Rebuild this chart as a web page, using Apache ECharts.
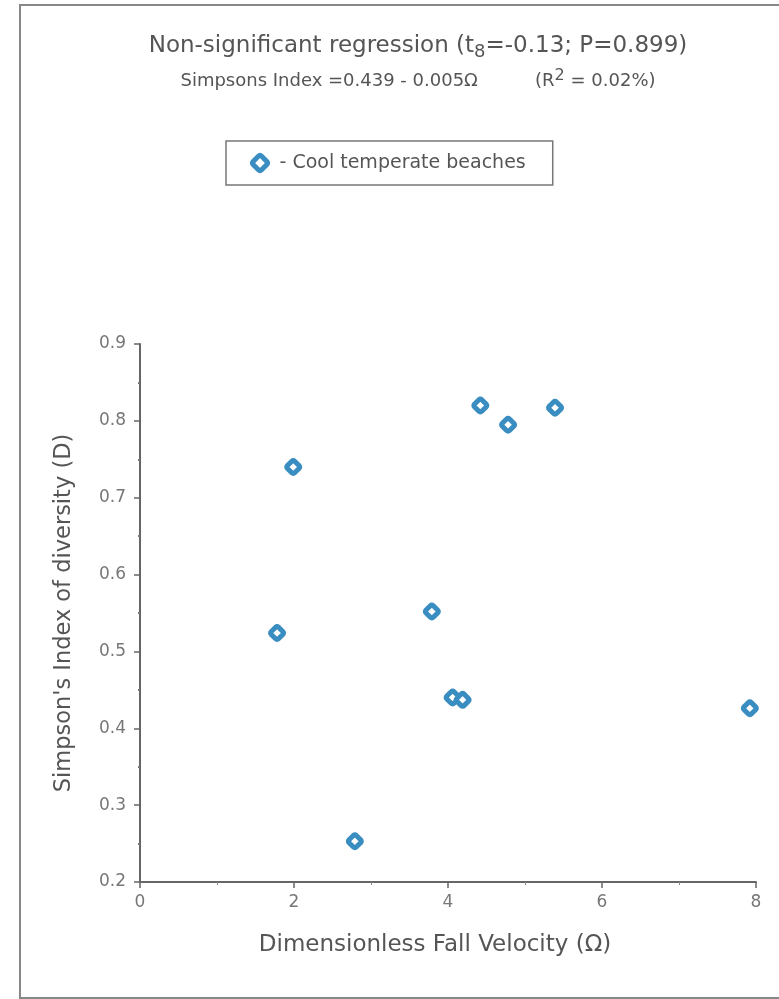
<!DOCTYPE html>
<html>
<head>
<meta charset="utf-8">
<script src="https://cdn.jsdelivr.net/npm/echarts@6/dist/echarts.min.js"></script>
<style>html,body{margin:0;padding:0;background:#fff}#c{width:779px;height:999px}</style>
</head>
<body>
<div id="c"></div>
<script>
// Data
const seriesName = 'Cool temperate beaches';
const fallVelocity = [1.78, 1.99, 2.79, 3.79, 4.06, 4.19, 4.42, 4.78, 5.39, 7.92];
const simpsonD =     [0.524, 0.740, 0.253, 0.552, 0.440, 0.437, 0.820, 0.795, 0.817, 0.426];
const xTicks = [0, 2, 4, 6, 8];
const yTicks = [0.2, 0.3, 0.4, 0.5, 0.6, 0.7, 0.8, 0.9];

const points = fallVelocity.map((x, i) => [x, simpsonD[i]]);
const txt = '#555';
const font = 'DejaVu Sans, Verdana, sans-serif';
const roundDiamond = 'path://M2,-8 L8,-2 Q10,0 8,2 L2,8 Q0,10 -2,8 L-8,2 Q-10,0 -8,-2 L-2,-8 Q0,-10 2,-8 Z';
const markerStyle = {color: '#fff', borderColor: '#3a8dc0', borderWidth: 5, opacity: 1};

const chart = echarts.init(document.getElementById('c'), null, {renderer: 'canvas'});
chart.setOption({
  animation: false,
  backgroundColor: '#fff',
  textStyle: {fontFamily: font},
  title: [{
    text: '{a|Non-significant regression (t}{s|8}{a|=-0.13; P=0.899)}',
    left: 413, top: 27, textAlign: 'center',
    textStyle: {fontWeight: 'normal', rich: {
      a: {fontSize: 23, color: txt, fontFamily: font, fontWeight: 'normal'},
      s: {fontSize: 18, color: txt, fontFamily: font, fontWeight: 'normal', padding: [11, 0, 0, 0]}
    }}
  }, {
    text: '{a|Simpsons Index =0.439 - 0.005Ω          (R}{p|2}{a| = 0.02%)}',
    left: 413, top: 63, textAlign: 'center',
    textStyle: {fontWeight: 'normal', rich: {
      a: {fontSize: 18, color: txt, fontFamily: font, fontWeight: 'normal'},
      p: {fontSize: 16, color: txt, fontFamily: font, fontWeight: 'normal', padding: [0, 0, 10, 0]}
    }}
  }],
  legend: {
    left: 226, top: 141,
    padding: [12, 27, 12, 24],
    borderColor: '#777', borderWidth: 1.5,
    icon: roundDiamond,
    itemWidth: 15, itemHeight: 15, itemGap: 5,
    itemStyle: markerStyle,
    formatter: n => '- ' + n,
    textStyle: {fontSize: 19, color: txt, fontFamily: font, padding: [0, 0, 0, 7]},
    data: [seriesName]
  },
  grid: {left: 140, right: 23, top: 344, bottom: 117, containLabel: false},
  xAxis: {
    type: 'value', min: 0, max: 8, interval: 2,
    name: 'Dimensionless Fall Velocity (Ω)', nameLocation: 'middle', nameGap: 52,
    nameTextStyle: {fontSize: 23, color: txt, fontFamily: font, padding: [0, 26, 0, 0]},
    axisLine: {lineStyle: {color: '#666', width: 2}},
    axisTick: {show: true, length: 6, lineStyle: {color: '#666', width: 1.5}},
    minorTick: {show: true, splitNumber: 2, length: 3, lineStyle: {color: '#888'}},
    axisLabel: {fontSize: 17, color: '#777', margin: 12, fontFamily: font, formatter: v => xTicks.includes(v) ? String(v) : ''},
    splitLine: {show: false}
  },
  yAxis: {
    type: 'value', min: 0.2, max: 0.9, interval: 0.1,
    name: "Simpson's Index of diversity (D)", nameLocation: 'middle', nameGap: 64,
    nameTextStyle: {fontSize: 22.5, color: txt, fontFamily: font},
    axisLine: {lineStyle: {color: '#666', width: 2}},
    axisTick: {show: true, length: 6, lineStyle: {color: '#666', width: 1.5}},
    minorTick: {show: true, splitNumber: 2, length: 2, lineStyle: {color: '#777', width: 2}},
    axisLabel: {fontSize: 17, color: '#777', margin: 14, fontFamily: font,
      formatter: v => { const r = Math.round(v * 10) / 10; return yTicks.includes(r) ? r.toFixed(1) : ''; }},
    splitLine: {show: false}
  },
  series: [{
    name: seriesName,
    type: 'scatter',
    data: points,
    symbol: roundDiamond,
    symbolSize: 13,
    itemStyle: markerStyle
  }],
  graphic: [{
    type: 'rect', silent: true, z: -1,
    shape: {x: 20, y: 5, width: 780, height: 993},
    style: {fill: 'none', stroke: '#888', lineWidth: 2}
  }]
});
</script>
</body>
</html>
